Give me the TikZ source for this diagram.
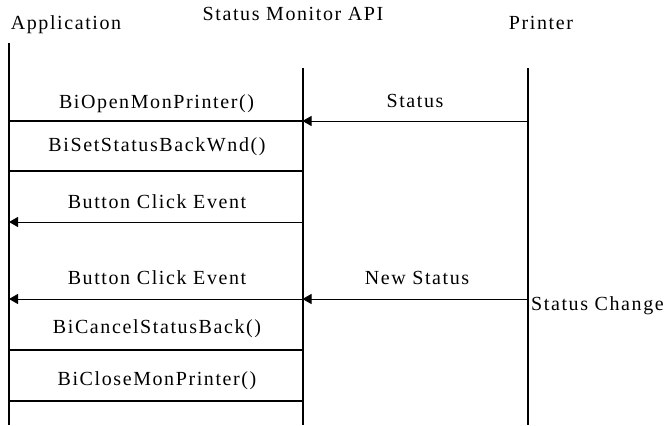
\documentclass[tikz,border=0pt]{standalone}
\usepackage{fontspec}
\setmainfont{Liberation Serif}[LetterSpace=8]
\usetikzlibrary{arrows.meta}
\begin{document}
\begin{tikzpicture}[x=1bp,y=-1bp,
  lifeline/.style={line width=2bp},
  callline/.style={line width=2bp},
  msg/.style={line width=1bp,-{Triangle[length=9bp,width=10bp]}},
  lbl/.style={anchor=base,inner sep=0pt,font=\fontsize{20bp}{24bp}\selectfont},
  hdr/.style={anchor=base,inner sep=0pt,font=\fontsize{20bp}{24bp}\selectfont}]
\useasboundingbox (0,0) rectangle (672,425);
% headers
\node[hdr] (happ) at (66,29) {Application};
\node[hdr] (hapi) at (293,20) {Status Monitor API};
\node[hdr] (hprn) at (541,29) {Printer};
% lifeline ends
\coordinate (appT) at (9,43);
\coordinate (appB) at (9,425);
\coordinate (apiT) at (302.5,68);
\coordinate (apiB) at (302.5,425);
\coordinate (prnT) at (527.5,68);
\coordinate (prnB) at (527.5,425);
% message points
\foreach \y/\n in {121/a,171/b,222/c,299/d,350/e,401/f}{
  \coordinate (app\n) at (9,\y);
  \coordinate (api\n) at (302.5,\y);
  \coordinate (prn\n) at (527.5,\y);
}
\draw[lifeline] (appT) -- (appB);
\draw[lifeline] (apiT) -- (apiB);
\draw[lifeline] (prnT) -- (prnB);
% calls
\draw[callline] (appa) -- (apia);
\draw[callline] (appb) -- (apib);
\draw[callline] (appe) -- (apie);
\draw[callline] (appf) -- (apif);
% messages
\draw[msg] (prna) -- (apia);
\draw[msg] (apic) -- (appc);
\draw[msg] (apid) -- (appd);
\draw[msg] (prnd) -- (apid);
% labels
\node[lbl] (l1) at (156.5,108) {BiOpenMonPrinter()};
\node[lbl] (l2) at (157,151) {BiSetStatusBackWnd()};
\node[lbl] (l3) at (157,208) {Button Click Event};
\node[lbl] (l4) at (157,284) {Button Click Event};
\node[lbl] (l5) at (157,333) {BiCancelStatusBack()};
\node[lbl] (l6) at (157,385) {BiCloseMonPrinter()};
\node[lbl] (l7) at (415,107) {Status};
\node[lbl] (l8) at (417,284) {New Status};
\node[lbl,anchor=base west] (l9) at (531,310) {Status Change};
\end{tikzpicture}
\end{document}
